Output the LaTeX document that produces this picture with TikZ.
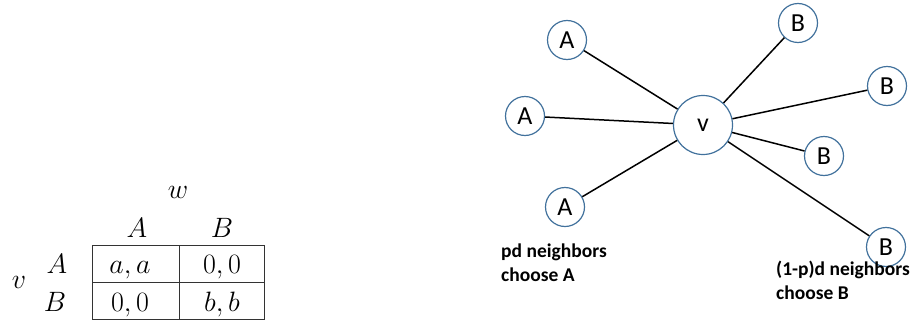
\RequirePackage{fix-cm}
\documentclass[tikz,border=0pt]{standalone}
\usepackage{fontspec}
\setsansfont{Carlito}
\usetikzlibrary{positioning}

\definecolor{ringblue}{HTML}{41719C}

\tikzset{
  player/.style={circle,draw=ringblue,line width=1.2pt,minimum size=39pt,
    inner sep=0pt,font=\sffamily\fontsize{26}{26}\selectfont},
  centre/.style={player,minimum size=59pt},
  tie/.style={line width=1.5pt},
  caption/.style={align=left,anchor=base west,inner sep=0pt,
    font=\sffamily\bfseries\fontsize{19.5}{23.5}\selectfont},
  entry/.style={inner sep=0pt,anchor=base,font=\fontsize{28}{28}\selectfont},
}

\begin{document}
\begin{tikzpicture}[x=1pt,y=-1pt]
\useasboundingbox (0,0) rectangle (912,332);

% Payoff table of the coordination game between v and w.
\draw[line width=1pt,black!80] (92,245) rectangle (264,319);
\draw[line width=1pt,black!80] (92,282) -- (264,282);
\draw[line width=1pt,black!80] (179,245) -- (179,319);

\node[entry] (w) at (178,198) {$w$};
\node[entry] (wa) at (137,237) {$A$};
\node[entry] (wb) at (222,237) {$B$};
\node[entry] (v) at (19,288) {$v$};
\node[entry] (va) at (57,273) {$A$};
\node[entry] (vb) at (55,311) {$B$};

\node[entry] (aa) at (130,273) {$a,a$};
\node[entry] (ab) at (222,273) {$0,0$};
\node[entry] (ba) at (130,311) {$0,0$};
\node[entry] (bb) at (222,311) {$b,b$};

% Node v and its d neighbors.
\node[centre] (c) at (703,125) {v};

\node[player] (a1) at (567,40) {A};
\node[player] (a2) at (525,116) {A};
\node[player] (a3) at (565,207) {A};

\node[player] (b1) at (798,23) {B};
\node[player] (b2) at (887,86) {B};
\node[player] (b3) at (824,156) {B};
\node[player] (b4) at (886,247) {B};

\foreach \n in {a1,a2,a3,b1,b2,b3,b4}
  \draw[tie] (c) -- (\n);

% Counts of neighbors on each side.
\node[caption] (pa) at (501,281) {pd neighbors\\choose A};
\node[caption] (pb) at (776,299) {(1-p)d neighbors\\choose B};

\end{tikzpicture}
\end{document}
